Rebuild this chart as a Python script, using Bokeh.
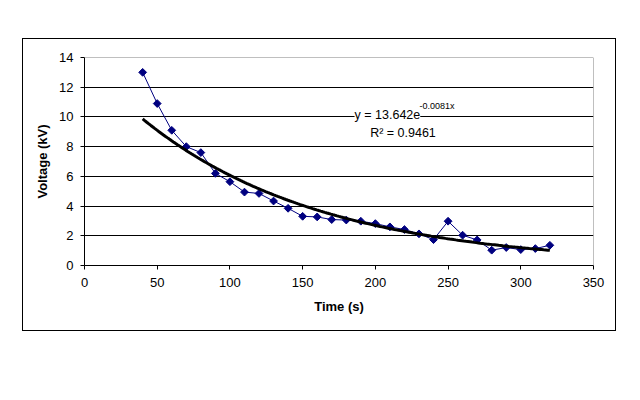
from bokeh.plotting import figure
from bokeh.models import Span, Label, FixedTicker, Range1d
from bokeh.embed import file_html
from bokeh.resources import INLINE
import numpy as np

# ---- data ----
time_s = [40, 50, 60, 70, 80, 90, 100, 110, 120, 130, 140, 150, 160, 170, 180,
          190, 200, 210, 220, 230, 240, 250, 260, 270, 280, 290, 300, 310, 320]
voltage_kv = [13.0, 10.9, 9.1, 8.0, 7.6, 6.2, 5.64, 4.94, 4.85, 4.34, 3.85, 3.31, 3.27, 3.09, 3.06,
              2.98, 2.82, 2.6, 2.42, 2.13, 1.74, 2.98, 2.04, 1.72, 1.03, 1.21, 1.07, 1.14, 1.36]
fit_a = 13.642
fit_b = -0.0081
eq_main = "y = 13.642e"
eq_exp = "-0.0081x"
r2_text = "R\u00b2 = 0.9461"
x_ticks = [0, 50, 100, 150, 200, 250, 300, 350]
y_ticks = [0, 2, 4, 6, 8, 10, 12, 14]
grid_ticks = [2, 4, 6, 8, 10, 12]

FONT = "Liberation Sans"

p = figure(width=594, height=293, output_backend="svg", toolbar_location=None,
           x_range=Range1d(0, 350), y_range=Range1d(0, 14),
           min_border_left=61, min_border_right=24, min_border_top=18, min_border_bottom=67,
           margin=(38, 0, 0, 22), background_fill_color="white", border_fill_color="white")
p.styles = {"border": "1px solid black", "box-sizing": "border-box"}
p.outline_line_color = None

# axes
for ax in (p.xaxis[0], p.yaxis[0]):
    ax.axis_line_color = "black"
    ax.major_tick_line_color = "black"
    ax.major_tick_out = 4
    ax.major_tick_in = 0
    ax.minor_tick_line_color = None
    ax.major_label_text_font = FONT
    ax.major_label_text_font_size = "13px"
    ax.major_label_text_color = "black"
    ax.axis_label_text_font = FONT
    ax.axis_label_text_font_size = "13px"
    ax.axis_label_text_font_style = "bold"
    ax.axis_label_text_color = "black"

p.xaxis.ticker = FixedTicker(ticks=x_ticks)
p.yaxis.ticker = FixedTicker(ticks=y_ticks)
p.xaxis.axis_label = "Time (s)"
p.yaxis.axis_label = "Voltage (kV)"
p.xaxis.major_label_standoff = 8
p.xaxis.axis_label_standoff = 9
p.yaxis.major_label_standoff = 7
p.yaxis.axis_label_standoff = 6

p.xgrid.grid_line_color = None
p.ygrid.ticker = FixedTicker(ticks=grid_ticks)
p.ygrid.grid_line_color = "black"
p.ygrid.grid_line_width = 1

# plot-area border top / right (gray)
p.add_layout(Span(location=14, dimension="width", line_color="#808080", line_width=1))
p.add_layout(Span(location=350, dimension="height", line_color="#808080", line_width=1))

# data series
p.line(time_s, voltage_kv, line_color="#000080", line_width=1)
p.scatter(time_s, voltage_kv, marker="square", angle=np.pi / 4, size=5.5,
          fill_color="#000080", line_color="#000080")

# exponential trendline from the displayed fit
xt = np.linspace(min(time_s), max(time_s), 200)
yt = fit_a * np.exp(fit_b * xt)
p.line(xt, yt, line_color="black", line_width=3)

# equation label
p.add_layout(Label(x=185.7, y=10.16, text=eq_main, text_font=FONT, text_font_size="12.5px",
                   text_align="left", text_baseline="alphabetic", text_color="black",
                   background_fill_color="white"))
p.add_layout(Label(x=230.4, y=10.74, text=eq_exp, text_font=FONT, text_font_size="9px",
                   text_align="left", text_baseline="alphabetic", text_color="black",
                   background_fill_color="white"))
p.add_layout(Label(x=219.0, y=8.95, text=r2_text, text_font=FONT, text_font_size="12.5px",
                   text_align="center", text_baseline="alphabetic", text_color="black"))

open("out.html", "w").write(file_html(p, INLINE))
